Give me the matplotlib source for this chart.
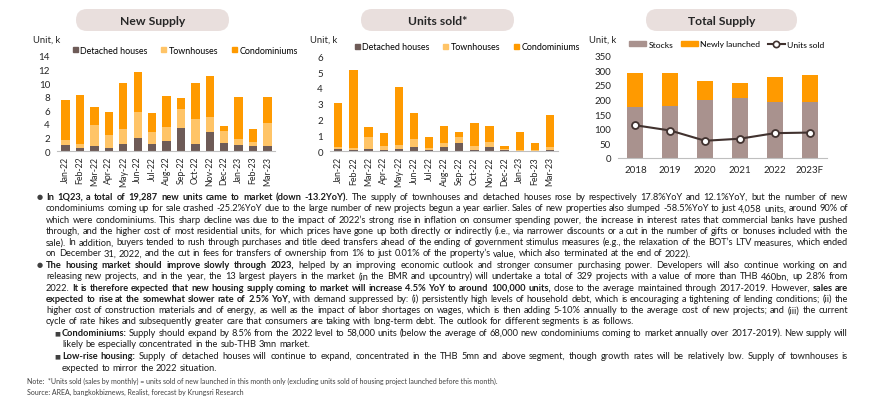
import matplotlib
matplotlib.use('Agg')
import numpy as np
import matplotlib.pyplot as plt
from matplotlib.patches import FancyBboxPatch, Patch
from matplotlib.lines import Line2D

plt.rcParams['font.family'] = ['Lato', 'DejaVu Sans']

# ---- data ----
months = ['Jan-22', 'Feb-22', 'Mar-22', 'Apr-22', 'May-22', 'Jun-22', 'Jul-22', 'Aug-22',
          'Sep-22', 'Oct-22', 'Nov-22', 'Dec-22', 'Jan-23', 'Feb-23', 'Mar-23']
supply_detached = [0.9, 0.5, 0.8, 0.5, 1.0, 1.85, 1.0, 1.45, 3.4, 1.1, 2.8, 1.15, 0.85, 0.8, 0.8]
supply_town = [0.65, 0.55, 3.0, 1.9, 2.25, 3.95, 1.8, 2.15, 2.85, 3.6, 2.15, 1.85, 0.95, 0.6, 3.4]
supply_condo = [5.95, 7.2, 2.65, 3.4, 6.7, 5.85, 2.8, 4.55, 1.5, 5.35, 6.15, 0.7, 6.2, 1.8, 3.8]

sold_detached = [0.15, 0.08, 0.15, 0.08, 0.15, 0.29, 0.1, 0.25, 0.55, 0.1, 0.29, 0.1, 0.04, 0.04, 0.08]
sold_town = [0.12, 0.1, 0.75, 0.26, 0.25, 0.47, 0.13, 0.3, 0.38, 0.26, 0.28, 0.02, 0.03, 0.04, 0.17]
sold_condo = [2.78, 4.95, 0.62, 0.8, 3.65, 1.68, 0.65, 1.05, 0.31, 1.43, 1.05, 0.24, 1.17, 0.42, 2.05]

years = ['2018', '2019', '2020', '2021', '2022', '2023F']
stocks = [176, 178, 197, 204, 190, 191]
launched = [115, 112, 65, 51, 86, 92]
units_sold = [112, 94, 59, 66, 85, 87]

seg_labels = ['Detached houses', 'Townhouses', 'Condominiums']

DET = '#6e5b57'
TOWN = '#ffc467'
CONDO = '#ff9a00'
STOCK = '#a9928e'
LINE = '#41322f'
PILL = '#e9dfdd'
TXT = '#1a1a1a'
AXC = '#bfbfbf'

W, H = 870, 402
fig = plt.figure(figsize=(W / 100, H / 100), dpi=100)
fig.patch.set_facecolor('white')

# background axes in pixel units for pills and text
bg = fig.add_axes([0, 0, 1, 1])
bg.set_xlim(0, W)
bg.set_ylim(H, 0)
bg.axis('off')


def px_axes(x0, y0, x1, y1):
    ax = fig.add_axes([x0 / W, 1 - y1 / H, (x1 - x0) / W, (y1 - y0) / H])
    ax.patch.set_alpha(0)
    for s in ['top', 'right', 'left']:
        ax.spines[s].set_visible(False)
    ax.spines['bottom'].set_color(AXC)
    ax.spines['bottom'].set_linewidth(0.8)
    ax.tick_params(axis='y', length=0, labelsize=7, pad=5, labelcolor='#262626')
    ax.tick_params(axis='x', length=0, labelcolor='#262626')
    return ax


def pill(x0, x1, title):
    bg.add_patch(FancyBboxPatch((x0 + 11, 10), x1 - x0 - 22, 22,
                                boxstyle='round,pad=0,rounding_size=11',
                                fc=PILL, ec='none'))
    bg.text((x0 + x1) / 2, 21.5, title, ha='center', va='center',
            fontsize=8.7, fontweight='bold', color='#262626')


def stacked(ax, det, town, condo, width):
    x = np.arange(len(months))
    b1 = np.array(det)
    b2 = b1 + np.array(town)
    ax.bar(x, det, width, color=DET)
    ax.bar(x, town, width, bottom=b1, color=TOWN)
    ax.bar(x, condo, width, bottom=b2, color=CONDO)
    ax.set_xticks(x)
    ax.set_xticklabels(months, rotation=90, fontsize=6.3)


def sq_legend(x, y):
    hs = [Line2D([], [], marker='s', ls='none', color=c, markersize=3.6)
          for c in (DET, TOWN, CONDO)]
    fig.legend(hs, seg_labels, loc='center left', bbox_to_anchor=(x / W, 1 - y / H),
               ncol=3, frameon=False, fontsize=6.4, handlelength=0.6, handletextpad=0.3,
               columnspacing=1.5, borderpad=0, borderaxespad=0)


# ---- New Supply ----
pill(65, 240, 'New Supply')
bg.text(33, 40, 'Unit, k', fontsize=6.8, va='center', color='#262626')
ax1 = px_axes(57, 57, 275.4, 152)
stacked(ax1, supply_detached, supply_town, supply_condo, 0.58)
ax1.set_ylim(0, 14)
ax1.set_yticks(range(0, 15, 2))
ax1.set_xlim(-0.6, 14.55)
sq_legend(72, 51)

# ---- Units sold ----
pill(350, 525, 'Units sold*')
bg.text(310, 40, 'Unit, k', fontsize=6.8, va='center', color='#262626')
ax2 = px_axes(330, 57.3, 558, 152.3)
stacked(ax2, sold_detached, sold_town, sold_condo, 0.55)
ax2.set_ylim(0, 6)
ax2.set_yticks(range(0, 7))
ax2.set_xlim(-0.55, 14.53)
sq_legend(354, 48)

# ---- Total Supply ----
pill(635, 808, 'Total Supply')
bg.text(589, 40, 'Unit, k', fontsize=6.8, va='center', color='#262626')
ax3 = px_axes(618, 56.7, 827, 159)
xy = np.arange(len(years))
ax3.bar(xy, stocks, 0.46, color=STOCK)
ax3.bar(xy, launched, 0.46, bottom=stocks, color=CONDO)
ax3.plot(xy, units_sold, color=LINE, lw=1.5, marker='o', markersize=5,
         markerfacecolor='white', markeredgecolor=LINE, markeredgewidth=1.3)
ax3.set_ylim(0, 350)
ax3.set_yticks(range(0, 351, 50))
ax3.set_xlim(-0.5, 5.5)
ax3.set_xticks(xy)
ax3.set_xticklabels(years, fontsize=7)
ax3.tick_params(axis='x', pad=5)
hs = [Patch(color=STOCK), Patch(color=CONDO),
      Line2D([], [], color=LINE, lw=1.5, marker='o', markersize=4.5,
             markerfacecolor='white', markeredgecolor=LINE, markeredgewidth=1.2)]
fig.legend(hs, ['Stocks', 'Newly launched', 'Units sold'], loc='center left',
           bbox_to_anchor=(629 / W, 1 - 45 / H), ncol=3, frameon=False, fontsize=6.1,
           handlelength=2.0, handleheight=0.5, handletextpad=0.3, columnspacing=0.9,
           borderpad=0, borderaxespad=0)

# ---- commentary text ----
para1 = [
    [("In 1Q23, a total of 19,287 new units came to market (down -13.2YoY).", True),
     ("The supply of townhouses and detached houses rose by respectively 17.8%YoY and 12.1%YoY, but the number of new", False)],
    [("condominiums coming up for sale crashed -25.2%YoY due to the large number of new projects begun a year earlier. Sales of new properties also slumped -58.5%YoY to just 4,058 units, around 90% of", False)],
    [("which were condominiums. This sharp decline was due to the impact of 2022\u2019s strong rise in inflation on consumer spending power, the increase in interest rates that commercial banks have pushed", False)],
    [("through, and the higher cost of most residential units, for which prices have gone up both directly or indirectly (i.e., via narrower discounts or a cut in the number of gifts or bonuses included with the", False)],
    [("sale). In addition, buyers tended to rush through purchases and title deed transfers ahead of the ending of government stimulus measures (e.g., the relaxation of the BOT\u2019s LTV measures, which ended", False)],
    [("on December 31, 2022, and the cut in fees for transfers of ownership from 1% to just 0.01% of the property\u2019s value, which also terminated at the end of 2022).", False)],
]
para2 = [
    [("The housing market should improve slowly through 2023,", True),
     ("helped by an improving economic outlook and stronger consumer purchasing power. Developers will also continue working on and", False)],
    [("releasing new projects, and in the year, the 13 largest players in the market (in the BMR and upcountry) will undertake a total of 329 projects with a value of more than THB 460bn, up 2.8% from", False)],
    [("2022.", False),
     ("It is therefore expected that new housing supply coming to market will increase 4.5% YoY to around 100,000 units,", True),
     ("close to the average maintained through 2017-2019. However,", False),
     ("sales are", True)],
    [("expected to rise at the somewhat slower rate of 2.5% YoY,", True),
     ("with demand suppressed by: (i) persistently high levels of household debt, which is encouraging a tightening of lending conditions; (ii) the", False)],
    [("higher cost of construction materials and of energy, as well as the impact of labor shortages on wages, which is then adding 5-10% annually to the average cost of new projects; and (iii) the current", False)],
    [("cycle of rate hikes and subsequently greater care that consumers are taking with long-term debt. The outlook for different segments is as follows.", False)],
]
sub1 = [
    [("Condominiums:", True),
     ("Supply should expand by 8.5% from the 2022 level to 58,000 units (below the average of 68,000 new condominiums coming to market annually over 2017-2019). New supply will", False)],
    [("likely be especially concentrated in the sub-THB 3mn market.", False)],
]
sub2 = [
    [("Low-rise housing:", True),
     ("Supply of detached houses will continue to expand, concentrated in the THB 5mn and above segment, though growth rates will be relatively low. Supply of townhouses is", False)],
    [("expected to mirror the 2022 situation.", False)],
]
note = "Note:  *Units sold (sales by monthly) = units sold of new launched in this month only (excluding units sold of housing project launched before this month)."
source = "Source: AREA, bangkokbiznews, Realist, forecast by Krungsri Research"

rend = fig.canvas.get_renderer()


def width_of(s, bold, size):
    t = bg.text(0, 0, s, fontsize=size, family='Lato', fontweight='bold' if bold else 'normal')
    w = t.get_window_extent(rend).width
    t.remove()
    return w


def line_words(segs):
    return [(w, b) for txt, b in segs for w in txt.split()]


# common text size: typical full lines get ordinary word spacing,
# and the bold lead-in of the first bullet should not run past x=354
base = 7.0
sp0 = width_of('a a', False, base) - width_of('aa', False, base)
fit = []
for lines, avail in [(para1[:-1], 802), (para2[:-1], 802), (sub1[:-1], 786), (sub2[:-1], 786)]:
    for segs in lines:
        words = line_words(segs)
        s = sum(width_of(w, b, base) for w, b in words)
        fit.append(avail / (s + sp0 * (len(words) - 1)))
fs_lead = base * 308 / width_of(para1[0][0][0], True, base)
FS = min(fs_lead, base * np.median(fit))
space = width_of('a a', False, FS) - width_of('aa', False, FS)


def draw_para(lines, x0, x1, y0, step=11.3):
    for i, segs in enumerate(lines):
        y = y0 + i * step + 3
        words = line_words(segs)
        last = i == len(lines) - 1
        size = FS
        if not last:
            # shrink a crowded line slightly so its word gaps stay readable
            s = sum(width_of(w, b, FS) for w, b in words)
            need = s + 0.8 * space * (len(words) - 1)
            if need > x1 - x0:
                size = FS * (x1 - x0) / need
        arts = [bg.text(0, y, w, fontsize=size, family='Lato',
                        fontweight='bold' if b else 'normal',
                        va='baseline', ha='left', color=TXT) for w, b in words]
        widths = [a.get_window_extent(rend).width for a in arts]
        gap = space if last else (x1 - x0 - sum(widths)) / (len(arts) - 1)
        x = x0
        for a, w in zip(arts, widths):
            a.set_x(x)
            x += w + gap


for y, lines in [(197, para1), (265, para2)]:
    bg.text(37, y + 0.5, '\u25cf', fontsize=5, family='DejaVu Sans', va='center', color='#404040')
    draw_para(lines, 46, 848, y)
for y, lines in [(333, sub1), (356.5, sub2)]:
    bg.text(54, y + 0.5, '\u25a0', fontsize=4.5, family='DejaVu Sans', va='center', color='#404040')
    draw_para(lines, 62, 848, y)

bg.text(27, 381, note, fontsize=5, va='center', color='#404040')
bg.text(27, 392, source, fontsize=5, va='center', color='#404040')

fig.savefig('out.png', dpi=100)
